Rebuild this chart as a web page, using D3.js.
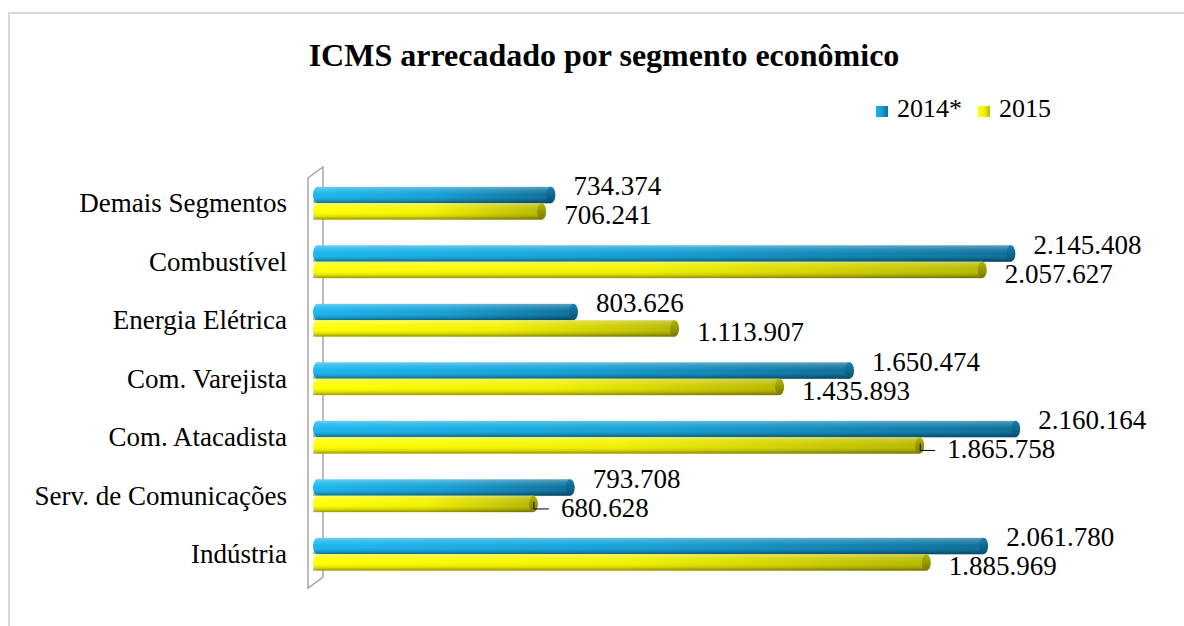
<!DOCTYPE html>
<html>
<head>
<meta charset="utf-8">
<script src="https://cdn.jsdelivr.net/npm/d3@7"></script>
<style>
  body { margin: 0; background: #fff; }
  text { font-family: "Liberation Serif", "Times New Roman", serif; }
</style>
</head>
<body>
<div id="chart"></div>
<script>
var width = 1184,
    height = 626;

// data (values in R$ mil)
var categories = ["Demais Segmentos", "Combustível", "Energia Elétrica", "Com. Varejista",
                  "Com. Atacadista", "Serv. de Comunicações", "Indústria"];
var series = ["2014*", "2015"];
var values2014 = [734374, 2145408, 803626, 1650474, 2160164, 793708, 2061780];
var values2015 = [706241, 2057627, 1113907, 1435893, 1865758, 680628, 1885969];
// labels that Excel pulled away from the bar (drawn with a leader line)
var leaderLabels = ["Com. Atacadista", "Serv. de Comunicações"];

var fmt = function(v) { return d3.format(",")(v).replace(/,/g, "."); };

var svg = d3.select("#chart").append("svg")
    .attr("width", width)
    .attr("height", height);

var defs = svg.append("defs");

function hGrad(id, stops) {
  var g = defs.append("linearGradient").attr("id", id)
      .attr("x1", 0).attr("y1", 0).attr("x2", 1).attr("y2", 0);
  stops.forEach(function(s) {
    g.append("stop").attr("offset", s[0]).attr("stop-color", s[1]);
  });
}
function vGrad(id, stops) {
  var g = defs.append("linearGradient").attr("id", id)
      .attr("x1", 0).attr("y1", 0).attr("x2", 0).attr("y2", 1);
  stops.forEach(function(s) {
    g.append("stop").attr("offset", s[0]).attr("stop-color", s[1]).attr("stop-opacity", s[2]);
  });
}
hGrad("blueH", [[0, "#1ab6ee"], [0.5, "#159fd4"], [1, "#0c6f9a"]]);
hGrad("yellowH", [[0, "#ffff00"], [0.5, "#f2f200"], [1, "#b8b800"]]);
vGrad("shade", [[0, "#ffffff", 0.35], [0.2, "#ffffff", 0.15], [0.5, "#ffffff", 0],
                [0.8, "#000000", 0.12], [1, "#000000", 0.4]]);
vGrad("blueCap", [[0, "#1a7fae", 1], [1, "#094f70", 1]]);
vGrad("yellowCap", [[0, "#b5b500", 1], [1, "#7a7a00", 1]]);

// chart border (only top/left visible in original)
svg.append("rect")
    .attr("x", 9).attr("y", 13)
    .attr("width", 1200).attr("height", 700)
    .attr("fill", "none")
    .attr("stroke", "#d9d9d9")
    .attr("stroke-width", 2);

// title
svg.append("text")
    .attr("x", 604).attr("y", 66)
    .attr("text-anchor", "middle")
    .style("font-size", "32px")
    .style("font-weight", "bold")
    .text("ICMS arrecadado por segmento econômico");

// scales
var x = d3.scaleLinear()
    .domain([0, 2500000])
    .range([316, 1131]);

var y = d3.scaleBand()
    .domain(categories)
    .range([174, 583.5])
    .paddingInner(0.44)
    .paddingOuter(0.22);

var ySub = d3.scaleBand()
    .domain(series)
    .range([0, y.bandwidth()]);

// 3d wall
var wall = svg.append("g").attr("fill", "none").attr("stroke", "#a6a6a6").attr("stroke-width", 1.5);
wall.append("path")
    .attr("d", "M308,178 L323,167 L323,577 L308,588 Z");

// category labels
svg.append("g").selectAll("text")
    .data(categories)
    .enter()
    .append("text")
      .attr("x", 287)
      .attr("y", function(d) { return y(d) + y.bandwidth() / 2 + 9; })
      .attr("text-anchor", "end")
      .style("font-size", "27px")
      .text(function(d) { return d; });

var rows = categories.map(function(c, i) {
  return { cat: c, v: [values2014[i], values2015[i]] };
});

var bars = svg.append("g");
var barStart = 313;

rows.forEach(function(r) {
  series.forEach(function(s, j) {
    var y0 = y(r.cat) + ySub(s),
        h = ySub.bandwidth(),
        xe = x(r.v[j]),
        rx = 4.5;
    var g = bars.append("g");
    // left rounded end
    g.append("ellipse")
        .attr("cx", barStart + rx).attr("cy", y0 + h / 2)
        .attr("rx", rx).attr("ry", h / 2)
        .attr("fill", j === 0 ? "#1ab6ee" : "#ffff00");
    g.append("rect")
        .attr("x", barStart + rx).attr("y", y0)
        .attr("width", xe - rx - barStart - rx).attr("height", h)
        .attr("fill", j === 0 ? "url(#blueH)" : "url(#yellowH)");
    g.append("rect")
        .attr("x", barStart).attr("y", y0)
        .attr("width", xe - rx - barStart).attr("height", h)
        .attr("fill", "url(#shade)");
    // right cap
    g.append("ellipse")
        .attr("cx", xe - rx).attr("cy", y0 + h / 2)
        .attr("rx", rx).attr("ry", h / 2)
        .attr("fill", j === 0 ? "url(#blueCap)" : "url(#yellowCap)");
  });
});

// data labels
var labels = svg.append("g").style("font-size", "27px");
rows.forEach(function(r) {
  var yb = y(r.cat) + ySub(series[0]) + ySub.bandwidth() / 2;
  labels.append("text")
      .attr("x", x(r.v[0]) + 18)
      .attr("y", yb)
      .text(fmt(r.v[0]));

  var y1 = y(r.cat) + ySub(series[1]) + ySub.bandwidth() / 2;
  var lead = leaderLabels.indexOf(r.cat) >= 0;
  var lx = x(r.v[1]) + (lead ? 23 : 18);
  labels.append("text")
      .attr("x", lx)
      .attr("y", y1 + 13)
      .text(fmt(r.v[1]));
  if (lead) {
    var xe = x(r.v[1]);
    labels.append("path")
        .attr("d", "M" + (xe - 4) + "," + (y1 - 2) + " L" + (xe - 4) + "," + (y1 + 5) + " L" + (lx - 12) + "," + (y1 + 5))
        .attr("fill", "none")
        .attr("stroke", "#000")
        .attr("stroke-width", 1);
  }
});

// legend
var legend = svg.append("g").attr("transform", "translate(876,106)");
var legendFill = ["url(#blueH)", "url(#yellowH)"];
var legendX = [0, 102];
series.forEach(function(s, i) {
  legend.append("rect")
      .attr("x", legendX[i]).attr("y", 0)
      .attr("width", 12).attr("height", 11)
      .attr("fill", legendFill[i]);
  legend.append("text")
      .attr("x", legendX[i] + 21).attr("y", 11)
      .style("font-size", "26px")
      .text(s);
});
</script>
</body>
</html>
